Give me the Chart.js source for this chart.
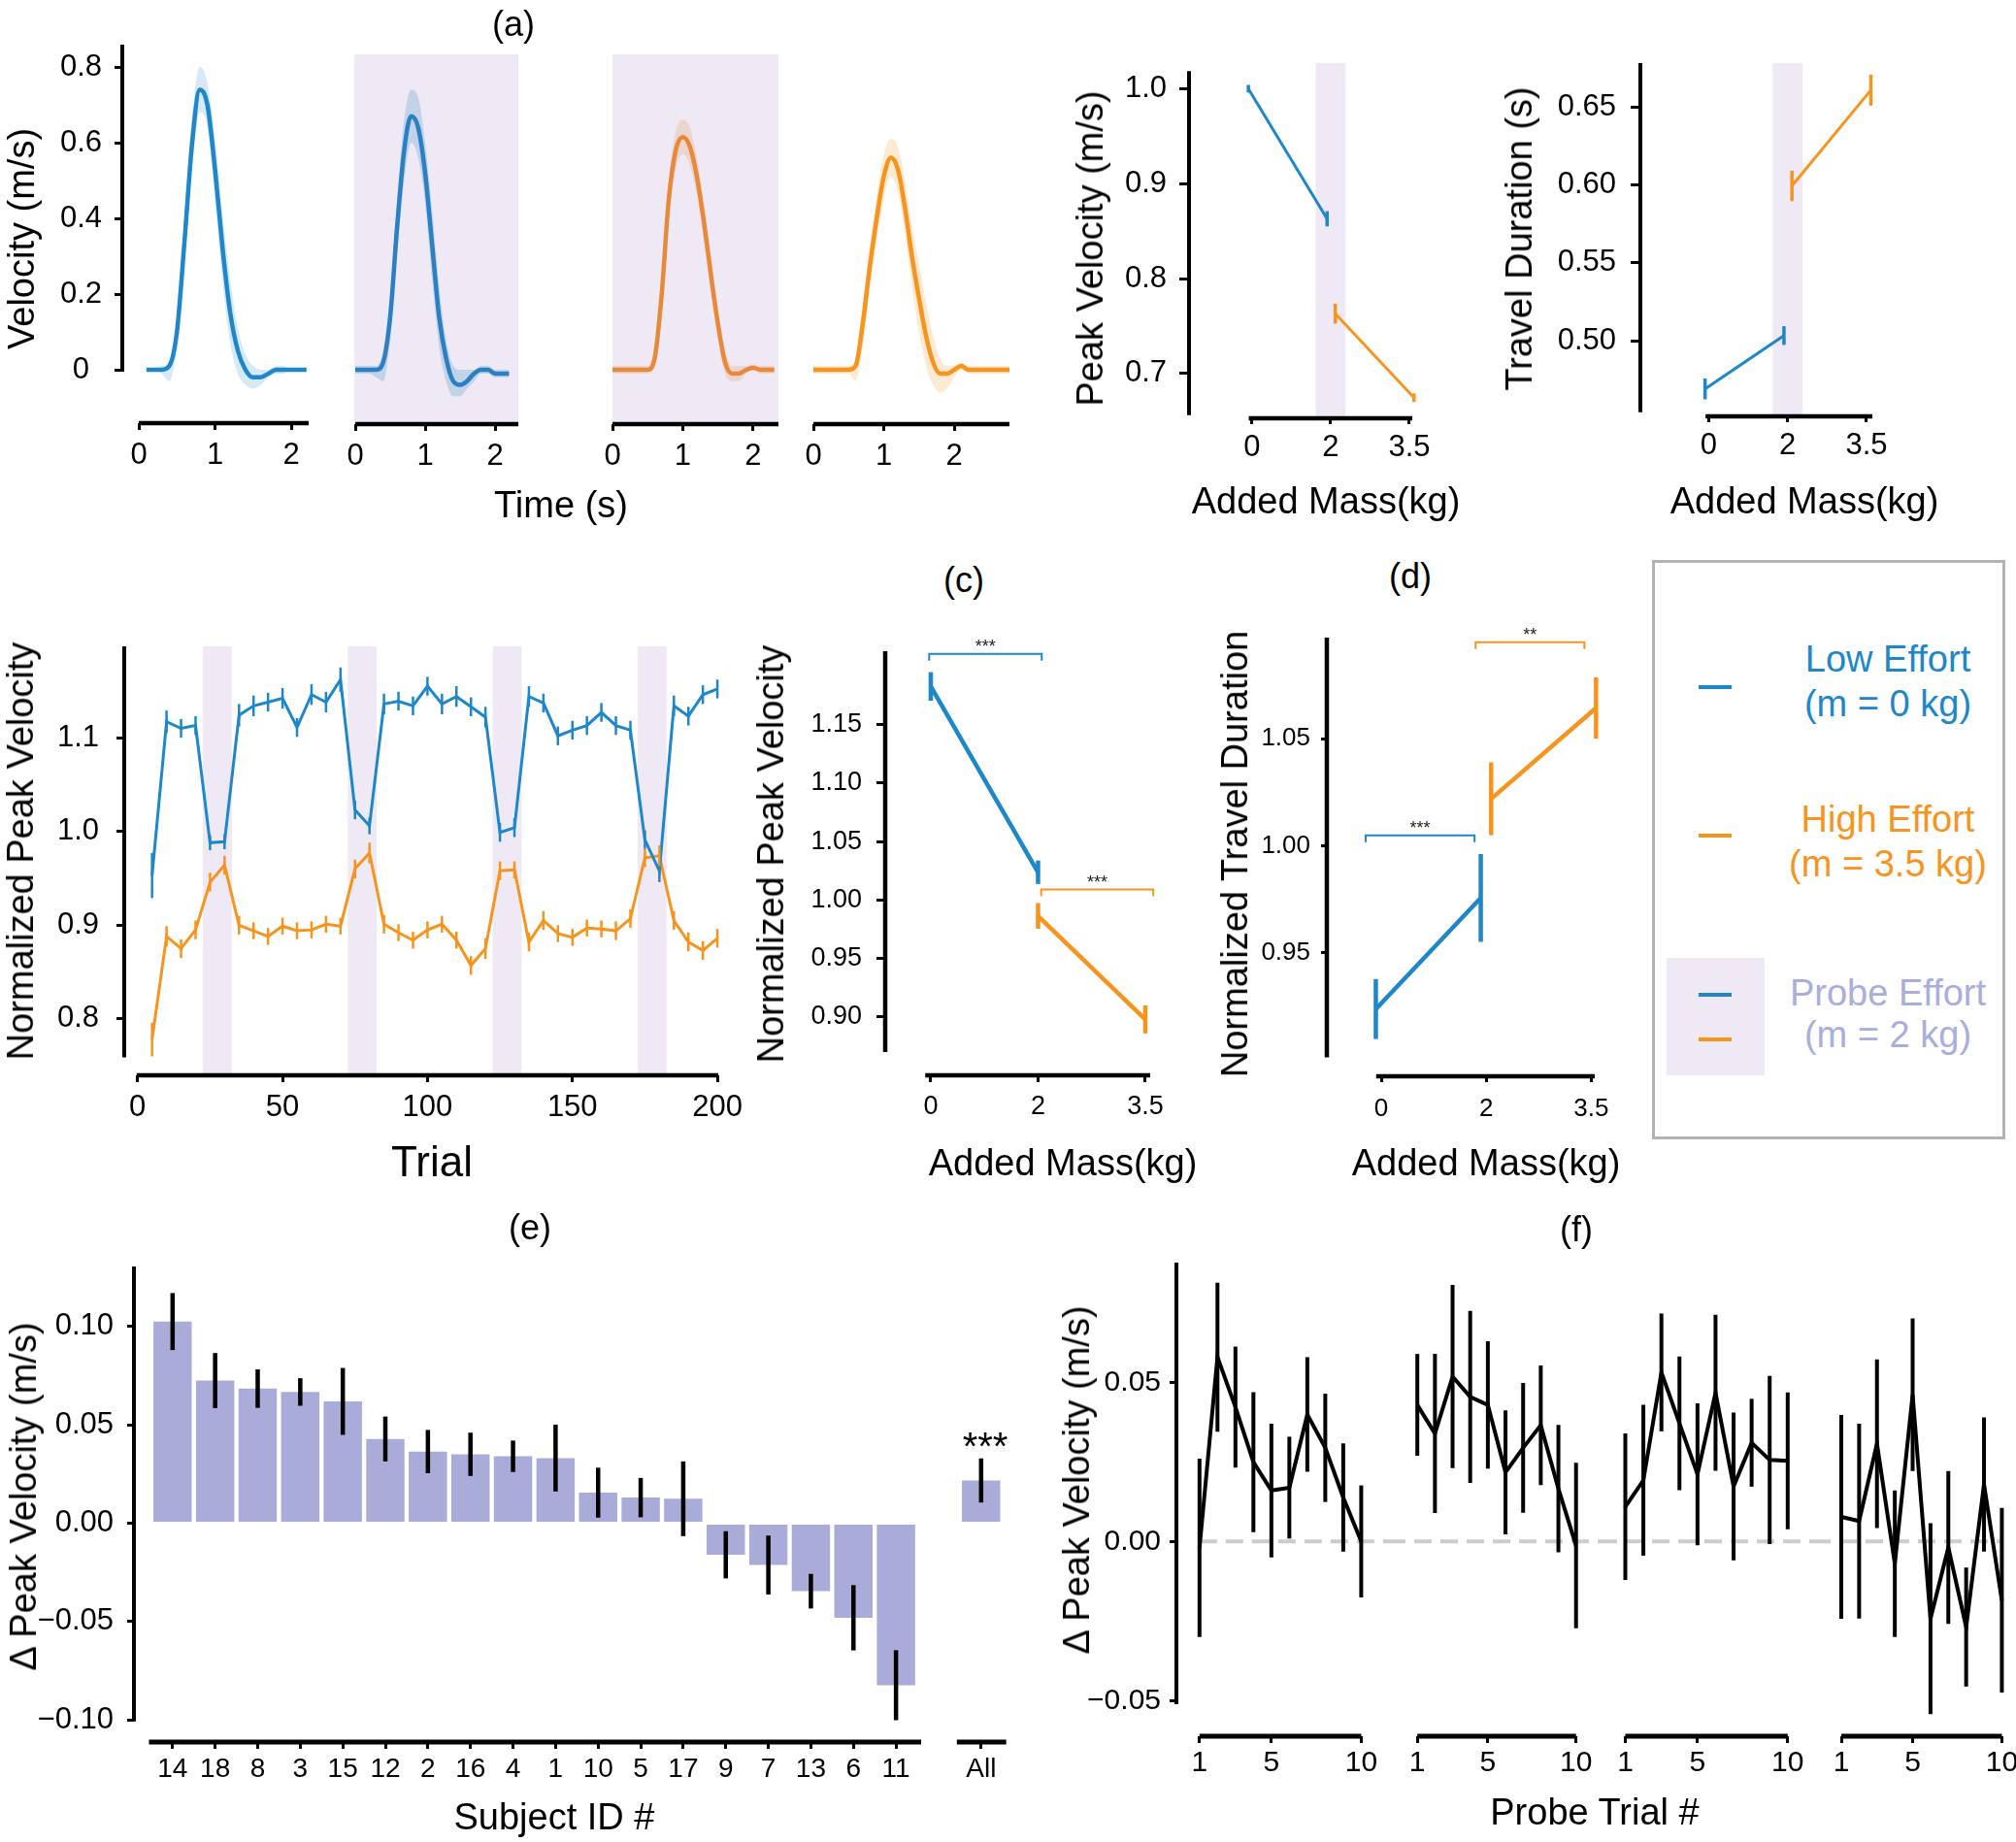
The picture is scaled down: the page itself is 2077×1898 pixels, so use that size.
<!DOCTYPE html>
<html><head><meta charset="utf-8">
<script src="https://cdn.jsdelivr.net/npm/chart.js"></script>
<style>
html,body{margin:0;padding:0;background:#fff;}
body{width:2077px;height:1898px;position:relative;overflow:hidden;font-family:"Liberation Sans",Arial,Helvetica,sans-serif;}
canvas{position:absolute;}
.t{position:absolute;white-space:nowrap;line-height:1;color:#000;transform:translate(-50%,-50%);}
.t.v{transform:translate(-50%,-50%) rotate(-90deg);}
.box{position:absolute;}
</style></head><body>
<script>
// ================= DATA =================
// (a) mean velocity profiles (m/s) with shaded spread
const timeLow = [0.1,0.2,0.3,0.4,0.5,0.6,0.7,0.8,0.9,1.0,1.1,1.2,1.3,1.4,1.5,1.6,1.7,1.8,1.9,2.0,2.1,2.2];
const velLow   = [0.00,0.00,0.00,0.01,0.10,0.34,0.60,0.74,0.70,0.53,0.32,0.15,0.05,0.00,-0.02,-0.02,-0.01,0.00,0.00,0.00,0.00,0.00];
const velLowHi = [0.00,0.00,0.01,0.02,0.14,0.40,0.67,0.80,0.76,0.61,0.41,0.24,0.11,0.04,0.01,0.00,0.00,0.01,0.01,0.00,0.00,0.00];
const velLowLo = [0.00,0.00,-0.01,-0.03,0.06,0.28,0.53,0.68,0.64,0.45,0.23,0.07,-0.01,-0.04,-0.05,-0.04,-0.02,-0.01,-0.01,0.00,0.00,0.00];

const timeProbeLow = [0.0,0.1,0.2,0.3,0.4,0.5,0.6,0.7,0.8,0.9,1.0,1.1,1.2,1.3,1.4,1.5,1.6,1.7,1.8,1.9,2.0,2.1,2.2];
const velProbeLow   = [0.00,0.00,0.00,0.00,0.02,0.14,0.38,0.58,0.67,0.64,0.52,0.33,0.14,0.03,-0.03,-0.04,-0.03,-0.01,0.00,0.00,-0.01,-0.01,-0.01];
const velProbeLowHi = [0.01,0.01,0.01,0.01,0.05,0.20,0.45,0.66,0.74,0.72,0.60,0.42,0.22,0.08,0.01,0.00,0.00,0.00,0.01,0.01,0.00,0.00,0.00];
const velProbeLowLo = [-0.01,-0.01,-0.01,-0.02,-0.03,0.08,0.31,0.50,0.60,0.56,0.44,0.24,0.06,-0.03,-0.07,-0.07,-0.05,-0.03,-0.01,-0.01,-0.02,-0.02,-0.02];

const timeProbeHigh = [0.0,0.1,0.2,0.3,0.4,0.5,0.6,0.7,0.8,0.9,1.0,1.1,1.2,1.3,1.4,1.5,1.6,1.7,1.8,1.9,2.0,2.1,2.2,2.3];
const velProbeHigh   = [0.00,0.00,0.00,0.00,0.00,0.00,0.03,0.20,0.45,0.58,0.615,0.59,0.51,0.39,0.25,0.12,0.02,-0.01,-0.01,0.00,0.005,0.00,0.00,0.00];
const velProbeHighHi = [0.01,0.01,0.01,0.01,0.01,0.01,0.06,0.25,0.50,0.63,0.66,0.64,0.56,0.44,0.30,0.16,0.05,0.01,0.01,0.01,0.015,0.01,0.01,0.01];
const velProbeHighLo = [-0.01,-0.01,-0.01,-0.01,-0.01,-0.01,0.01,0.15,0.40,0.53,0.57,0.54,0.46,0.34,0.20,0.08,-0.01,-0.03,-0.03,-0.01,0.00,-0.01,-0.01,-0.01];

const timeHigh = [0.0,0.1,0.2,0.3,0.4,0.5,0.6,0.7,0.8,0.9,1.0,1.1,1.2,1.3,1.4,1.5,1.6,1.7,1.8,1.9,2.0,2.1,2.2,2.3,2.4,2.5,2.6,2.7,2.8];
const velHigh   = [0.00,0.00,0.00,0.00,0.00,0.00,0.01,0.12,0.27,0.40,0.51,0.56,0.53,0.43,0.30,0.19,0.09,0.02,-0.01,-0.01,0.00,0.01,0.00,0.00,0.00,0.00,0.00,0.00,0.00];
const velHighHi = [0.01,0.01,0.01,0.01,0.01,0.01,0.03,0.17,0.33,0.46,0.57,0.61,0.59,0.50,0.38,0.28,0.18,0.09,0.03,0.01,0.01,0.02,0.01,0.01,0.01,0.01,0.01,0.01,0.01];
const velHighLo = [-0.01,-0.01,-0.01,-0.01,-0.01,-0.01,-0.03,0.06,0.21,0.34,0.45,0.51,0.47,0.36,0.22,0.10,0.01,-0.04,-0.06,-0.05,-0.02,0.00,-0.01,-0.01,-0.01,-0.01,-0.01,-0.01,-0.01];

// added-mass categories
const massCats = ['0','2','3.5'];
// (a) peak velocity & travel duration
const lowCats = ['0','2'], highCats = ['2','3.5'];
const peakVelLow = [1.000,0.863],  peakVelLowErr = [0.004,0.008];
const peakVelHigh = [0.763,0.6745], peakVelHighErr = [0.0105,0.0045];
const durLow = [0.469,0.5033],  durLowErr = [0.0067,0.006];
const durHigh = [0.5995,0.661], durHighErr = [0.0098,0.010];

// (b) normalized peak velocity per trial bin
const trialNums = [5,10,15,20,25,30,35,40,45,50,55,60,65,70,75,80,85,90,95,100,105,110,115,120,125,130,135,140,145,150,155,160,165,170,175,180,185,190,195,200];
const npvLow = [0.953,1.117,1.110,1.113,0.988,0.989,1.124,1.134,1.138,1.142,1.111,1.146,1.138,1.162,1.023,1.006,1.136,1.139,1.134,1.155,1.136,1.144,1.133,1.122,0.999,1.004,1.144,1.137,1.102,1.108,1.113,1.127,1.113,1.108,0.991,0.958,1.134,1.123,1.146,1.152];
const npvLowErr = [0.024,0.012,0.010,0.010,0.008,0.008,0.012,0.011,0.010,0.011,0.010,0.011,0.011,0.013,0.010,0.009,0.011,0.010,0.010,0.010,0.011,0.011,0.010,0.011,0.010,0.010,0.011,0.010,0.010,0.010,0.010,0.010,0.010,0.010,0.010,0.012,0.011,0.010,0.010,0.010];
const npvHigh = [0.778,0.888,0.875,0.895,0.946,0.964,0.900,0.894,0.888,0.899,0.894,0.895,0.901,0.899,0.960,0.977,0.901,0.892,0.884,0.895,0.901,0.884,0.857,0.875,0.958,0.959,0.882,0.905,0.891,0.887,0.897,0.896,0.894,0.907,0.972,0.974,0.905,0.882,0.873,0.886];
const npvHighErr = [0.018,0.011,0.010,0.010,0.010,0.010,0.010,0.009,0.009,0.009,0.009,0.009,0.009,0.009,0.010,0.011,0.010,0.009,0.009,0.009,0.009,0.009,0.010,0.011,0.010,0.009,0.010,0.010,0.009,0.009,0.009,0.009,0.010,0.010,0.010,0.011,0.010,0.010,0.010,0.010];
const probeBlocks = [[25,30],[75,80],[125,130],[175,180]];

// (c) normalized peak velocity by mass
const nPeakLow = [1.1825,1.0237], nPeakLowErr = [0.0122,0.010];
const nPeakHigh = [0.9864,0.898], nPeakHighErr = [0.011,0.012];
// (d) normalized travel duration by mass
const nDurLow = [0.9237,0.9756], nDurLowErr = [0.014,0.0205];
const nDurHigh = [1.0219,1.0643], nDurHighErr = [0.017,0.0143];

// (e) per-subject change in peak velocity
const subjects = ['14','18','8','3','15','12','2','16','4','1','10','5','17','9','7','13','6','11'];
const deltaPV = [0.1025,0.0725,0.0684,0.0667,0.0619,0.0428,0.0364,0.0350,0.0340,0.0331,0.0155,0.0130,0.0124,-0.0161,-0.0213,-0.0346,-0.0481,-0.0824];
const deltaPVErr = [0.0145,0.014,0.0098,0.007,0.017,0.0114,0.011,0.011,0.008,0.017,0.0127,0.010,0.019,0.012,0.015,0.0088,0.0166,0.0178];
const deltaAll = 0.0217, deltaAllErr = 0.0112;

// (f) change in peak velocity per probe trial, 4 probe blocks
const probeTrialNums = [1,2,3,4,5,6,7,8,9,10];
const block1 = [-0.002,0.0579,0.0422,0.0249,0.016,0.0169,0.0399,0.0294,0.0138,0.0];
const block1Err = [0.028,0.0234,0.019,0.022,0.021,0.016,0.018,0.017,0.017,0.0176];
const block2 = [0.0429,0.0339,0.0518,0.0454,0.0429,0.0217,0.0294,0.0365,0.0166,-0.0013];
const block2Err = [0.016,0.025,0.0288,0.027,0.020,0.0195,0.0204,0.0188,0.020,0.026];
const block3 = [0.0109,0.0192,0.0531,0.0371,0.0211,0.0467,0.0173,0.031,0.0256,0.0253];
const block3Err = [0.023,0.0237,0.0185,0.021,0.0223,0.0245,0.0232,0.0138,0.0264,0.0215];
const block4 = [0.0077,0.0064,0.0307,-0.007,0.0461,-0.0243,-0.0019,-0.0269,0.0179,-0.0185];
const block4Err = [0.032,0.0306,0.0265,0.023,0.024,0.030,0.024,0.0187,0.0211,0.029];

// ================= STYLE =================
const BLUE='#1d87c9', ORANGE='#f7941e', BLUE_P='#2a80c2', ORANGE_P='#e8893a', LAV='#eee9f4', BARC='#a9acd8', PROBE_TXT='#a9aedb';
const FONT='"Liberation Sans", Arial, Helvetica, sans-serif';
Chart.defaults.font.family = FONT;
Chart.defaults.color = '#000';
Chart.defaults.animation = false;

// ================= HELPERS =================
const pts = (xs, ys) => xs.map((x,i)=>({x:x, y:ys[i]}));
const catPts = (cats, ys) => cats.map((c,i)=>({x:massCats.indexOf(c), y:ys[i]}));

function linX(c){
  return {type:'linear', position:'bottom', min:c.min, max:c.max, offset:false, display:c.show!==false,
    afterFit:s=>{s.height=c.h;},
    afterBuildTicks:s=>{ if(c.ticks) s.ticks=c.ticks.map(v=>({value:v})); },
    ticks:{autoSkip:false, maxRotation:0, minRotation:0, padding:c.pad||6, font:{size:c.fs||30}, color:'#000',
      callback:(v,i)=> c.labels ? c.labels[i] : String(v)},
    grid:{display:true, offset:false, drawOnChartArea:false, drawTicks:true, tickLength:c.tl||7, tickWidth:3, tickColor:'#000', color:'#000', lineWidth:3},
    border:{display:false}};
}
function hidX(min,max){ return {type:'linear', axis:'x', display:false, min:min, max:max, offset:false, afterFit:s=>{s.height=0;}}; }
function linY(c){
  const shown = c.show!==false;
  return {type:'linear', position:'left', min:c.min, max:c.max, display:shown,
    afterFit:s=>{s.width = shown ? c.w : 0;},
    afterBuildTicks:s=>{ if(c.ticks) s.ticks=c.ticks.map(v=>({value:v})); },
    ticks:{padding:c.pad||8, font:{size:c.fs||30}, color:'#000', crossAlign:c.align||'near',
      callback:(v,i)=> c.labels ? c.labels[i] : String(v)},
    grid:{display:true, drawOnChartArea:false, drawTicks:true, tickLength:c.tl||7, tickWidth:3, tickColor:'#000', color:'#000', lineWidth:3},
    border:{display:false}};
}

function makeChart(spec){
  const a=spec.area, p=Object.assign({l:0,r:0,t:0,b:0}, spec.pad||{});
  const yw = spec.yw||0;
  const left=a.l-yw-p.l, top=a.t-p.t;
  const W=a.r-left+p.r, H=a.b+spec.xh+p.b-top;
  const cv=document.createElement('canvas');
  cv.width=W; cv.height=H;
  cv.style.left=left+'px'; cv.style.top=top+'px'; cv.style.width=W+'px'; cv.style.height=H+'px';
  document.body.appendChild(cv);
  return new Chart(cv, {
    type: spec.type||'line',
    data: {datasets: spec.datasets},
    options: {responsive:false, maintainAspectRatio:false, animation:false, devicePixelRatio:1, events:[],
      layout:{padding:{left:p.l, right:p.r, top:p.t, bottom:p.b}},
      plugins:{legend:{display:false}, tooltip:{enabled:false}},
      scales: spec.scales},
    plugins: spec.plugins||[]
  });
}

// error bars drawn through the chart scales
Chart.register({id:'errbars', afterDatasetsDraw(chart){
  const ctx=chart.ctx;
  chart.data.datasets.forEach((ds,i)=>{
    if(!ds.err) return;
    const meta=chart.getDatasetMeta(i), ys=chart.scales[meta.yAxisID];
    ctx.save(); ctx.strokeStyle=ds.errColor||ds.borderColor; ctx.lineWidth=ds.errWidth||3; ctx.lineCap='butt';
    ds.data.forEach((d,j)=>{
      const e=ds.err[j], el=meta.data[j]; if(e==null||!el) return;
      ctx.beginPath(); ctx.moveTo(el.x, ys.getPixelForValue(d.y-e)); ctx.lineTo(el.x, ys.getPixelForValue(d.y+e)); ctx.stroke();
    });
    ctx.restore();
  });
}});

function spines(o){ return {id:'spines', afterDraw(chart){
  const ctx=chart.ctx, a=chart.chartArea, xs=chart.scales.x, ys=chart.scales.y;
  ctx.save(); ctx.strokeStyle='#000'; ctx.lineCap='butt';
  ctx.lineWidth=o.wx||4;
  (o.x||[]).forEach(r=>{ctx.beginPath(); ctx.moveTo(xs.getPixelForValue(r[0]),a.bottom); ctx.lineTo(xs.getPixelForValue(r[1]),a.bottom); ctx.stroke();});
  ctx.lineWidth=o.wy||4;
  (o.y||[]).forEach(r=>{ctx.beginPath(); ctx.moveTo(a.left,ys.getPixelForValue(r[0])); ctx.lineTo(a.left,ys.getPixelForValue(r[1])); ctx.stroke();});
  ctx.restore();
}}; }
function shade(ranges,color){ return {id:'shade', beforeDatasetsDraw(chart){
  const ctx=chart.ctx, a=chart.chartArea, xs=chart.scales.x;
  ctx.save(); ctx.fillStyle=color;
  (ranges||[[null,null]]).forEach(r=>{
    const x0=r[0]==null?a.left:xs.getPixelForValue(r[0]), x1=r[1]==null?a.right:xs.getPixelForValue(r[1]);
    ctx.fillRect(x0,a.top,x1-x0,a.bottom-a.top);
  });
  ctx.restore();
}}; }
function brackets(list){ return {id:'brackets', afterDatasetsDraw(chart){
  const ctx=chart.ctx, xs=chart.scales.x, ys=chart.scales.y;
  list.forEach(b=>{
    const x0=xs.getPixelForValue(b.x0), x1=xs.getPixelForValue(b.x1), py=ys.getPixelForValue(b.y);
    ctx.save(); ctx.strokeStyle=b.color; ctx.lineWidth=2;
    ctx.beginPath(); ctx.moveTo(x0,py+7); ctx.lineTo(x0,py); ctx.lineTo(x1,py); ctx.lineTo(x1,py+7); ctx.stroke();
    ctx.fillStyle='#222'; ctx.font='18px '+FONT; ctx.textAlign='center'; ctx.textBaseline='alphabetic';
    ctx.fillText(b.text,(x0+x1)/2,py-2);
    ctx.restore();
  });
}}; }
function zeroLine(from,to){ return {id:'zero', beforeDatasetsDraw(chart){
  const ctx=chart.ctx, a=chart.chartArea, xs=chart.scales.x, ys=chart.scales.y;
  const x0=from==null?a.left:xs.getPixelForValue(from), x1=to==null?a.right:xs.getPixelForValue(to), py=ys.getPixelForValue(0);
  ctx.save(); ctx.strokeStyle='#cccccc'; ctx.lineWidth=4; ctx.setLineDash([18,9]);
  ctx.beginPath(); ctx.moveTo(x0,py); ctx.lineTo(x1,py); ctx.stroke(); ctx.restore();
}}; }

function bandSet(t,m,hi,lo,col,bandCol){
  return [
    {data:pts(t,m), borderColor:col, borderWidth:4.5, pointRadius:0, cubicInterpolationMode:'monotone', fill:false},
    {data:pts(t,hi), borderColor:'rgba(0,0,0,0)', borderWidth:0, pointRadius:0, cubicInterpolationMode:'monotone', fill:'+1', backgroundColor:bandCol},
    {data:pts(t,lo), borderColor:'rgba(0,0,0,0)', borderWidth:0, pointRadius:0, cubicInterpolationMode:'monotone', fill:false}
  ];
}
function lineDs(data,color,err,w,ew,axis){
  const d={data:data, borderColor:color, borderWidth:w, pointRadius:0, fill:false, tension:0, err:err, errColor:color, errWidth:ew};
  if(axis) d.xAxisID=axis;
  return d;
}
function txt(s,cx,cy,size,opt){
  opt=opt||{};
  const d=document.createElement('div'); d.className='t'+(opt.rot?' v':''); d.textContent=s;
  d.style.left=cx+'px'; d.style.top=cy+'px'; d.style.fontSize=size+'px';
  if(opt.color) d.style.color=opt.color;
  document.body.appendChild(d);
}
function rect(l,t,w,h,color){
  const d=document.createElement('div'); d.className='box';
  Object.assign(d.style,{left:l+'px',top:t+'px',width:w+'px',height:h+'px',background:color});
  document.body.appendChild(d); return d;
}

// ================= PANEL (a): velocity profiles =================
const vTicks=[0,0.2,0.4,0.6,0.8], vLabels=['0','0.2','0.4','0.6','0.8'];
makeChart({area:{l:126,t:46,r:318,b:436}, yw:110, xh:70, pad:{l:0,r:30,t:40},
  datasets: bandSet(timeLow,velLow,velLowHi,velLowLo,BLUE,'rgba(29,135,201,0.18)'),
  scales:{x:linX({min:-0.2166,max:2.229,ticks:[0,1,2],fs:31,tl:7,pad:8,h:70}),
          y:linY({min:-0.141,max:0.859,ticks:vTicks,labels:vLabels,fs:31,tl:8,pad:13,w:110,align:'center'})},
  plugins:[spines({x:[[0,2.229]], y:[[-0.005,0.859]], wx:4.5, wy:4})]});
makeChart({area:{l:365,t:56,r:534,b:437}, xh:70, pad:{l:25,r:25,t:10},
  datasets: bandSet(timeProbeLow,velProbeLow,velProbeLowHi,velProbeLowLo,BLUE_P,'rgba(43,128,194,0.22)'),
  scales:{x:linX({min:-0.014,max:2.333,ticks:[0,1,2],fs:31,tl:7,pad:8,h:70}),
          y:linY({min:-0.1436,max:0.8333,show:false})},
  plugins:[shade(null,LAV), spines({x:[[0,2.333]], wx:4.5})]});
makeChart({area:{l:631,t:56,r:802,b:437}, xh:70, pad:{l:25,r:25,t:10},
  datasets: bandSet(timeProbeHigh,velProbeHigh,velProbeHighHi,velProbeHighLo,ORANGE_P,'rgba(232,137,58,0.2)'),
  scales:{x:linX({min:0,max:2.359,ticks:[0,1,2],fs:31,tl:7,pad:8,h:70}),
          y:linY({min:-0.1436,max:0.8333,show:false})},
  plugins:[shade(null,LAV), spines({x:[[0,2.359]], wx:4.5})]});
makeChart({area:{l:838,t:56,r:1040,b:437}, xh:70, pad:{l:25,r:25,t:10},
  datasets: bandSet(timeHigh,velHigh,velHighHi,velHighLo,ORANGE,'rgba(247,148,30,0.2)'),
  scales:{x:linX({min:0,max:2.786,ticks:[0,1,2],fs:31,tl:7,pad:8,h:70}),
          y:linY({min:-0.1436,max:0.8333,show:false})},
  plugins:[spines({x:[[0,2.786]], wx:4.5})]});

// ================= PANEL (a): peak velocity / travel duration =================
const probeIdx = massCats.indexOf('2');
makeChart({area:{l:1225,t:65,r:1455,b:431}, yw:100, xh:70, pad:{l:0,r:30,t:45},
  datasets:[lineDs(catPts(lowCats,peakVelLow),BLUE,peakVelLowErr,3,3.5,'xb'),
            lineDs(catPts(highCats,peakVelHigh),ORANGE,peakVelHighErr,3,3.5,'xo')],
  scales:{x:linX({min:-0.799,max:2.037,ticks:[0,1,2],labels:massCats,fs:31,tl:6,pad:6,h:70}),
          xb:hidX(-0.799+0.045,2.037+0.045), xo:hidX(-0.799-0.059,2.037-0.059),
          y:linY({min:0.6528,max:1.027,ticks:[0.7,0.8,0.9,1.0],labels:['0.7','0.8','0.9','1.0'],fs:31,tl:10,pad:13,w:100})},
  plugins:[shade([[probeIdx-0.19,probeIdx+0.19]],LAV), spines({x:[[-0.04,2.037]], y:[[0.656,1.0186]], wx:4.5, wy:4})]});
makeChart({area:{l:1690,t:65,r:1929,b:429}, yw:110, xh:70, pad:{l:0,r:30,t:45},
  datasets:[lineDs(catPts(lowCats,durLow),BLUE,durLowErr,3,3.5,'xb'),
            lineDs(catPts(highCats,durHigh),ORANGE,durHighErr,3,3.5,'xo')],
  scales:{x:linX({min:-0.866,max:2.074,ticks:[0,1,2],labels:massCats,fs:31,tl:6,pad:6,h:70}),
          xb:hidX(-0.866+0.046,2.074+0.046), xo:hidX(-0.866-0.055,2.074-0.055),
          y:linY({min:0.4514,max:0.6784,ticks:[0.50,0.55,0.60,0.65],labels:['0.50','0.55','0.60','0.65'],fs:31,tl:10,pad:15,w:110})},
  plugins:[shade([[probeIdx-0.19,probeIdx+0.19]],LAV), spines({x:[[-0.04,2.074]], y:[[0.454,0.6784]], wx:4.5, wy:4})]});

// ================= PANEL (b): trials =================
const halfStep=(trialNums[1]-trialNums[0])/2;
makeChart({area:{l:128,t:666,r:743,b:1108}, yw:100, xh:70, pad:{l:0,r:30,t:45},
  datasets:[Object.assign(lineDs(pts(trialNums,npvLow),BLUE,npvLowErr,3,2.5),{order:0}),
            Object.assign(lineDs(pts(trialNums,npvHigh),ORANGE,npvHighErr,3,2.5),{order:1})],
  scales:{x:linX({min:-4.6,max:200.4,ticks:[0,50,100,150,200],fs:31,tl:7,pad:8,h:70}),
          y:linY({min:0.7398,max:1.1975,ticks:[0.8,0.9,1.0,1.1],labels:['0.8','0.9','1.0','1.1'],fs:31,tl:8,pad:18,w:100})},
  plugins:[shade(probeBlocks.map(b=>[b[0]-halfStep,b[b.length-1]+halfStep]),LAV), spines({x:[[-0.3,200.3]], y:[[0.759,1.1975]], wx:4.5, wy:4})]});

// ================= PANEL (c) =================
makeChart({area:{l:912,t:671,r:1192,b:1108}, yw:100, xh:70, pad:{l:0,r:30,t:40},
  datasets:[lineDs(catPts(lowCats,nPeakLow),BLUE,nPeakLowErr,4.5,4.5),
            lineDs(catPts(highCats,nPeakHigh),ORANGE,nPeakHighErr,4.5,4.5)],
  scales:{x:linX({min:-0.425,max:2.109,ticks:[0,1,2],labels:massCats,fs:27,tl:7,pad:9,h:70}),
          y:linY({min:0.8502,max:1.2126,ticks:[0.90,0.95,1.00,1.05,1.10,1.15],labels:['0.90','0.95','1.00','1.05','1.10','1.15'],fs:27,tl:9,pad:15,w:100})},
  plugins:[spines({x:[[-0.052,2.045]], y:[[0.870,1.2126]], wx:4.5, wy:4.5}),
           brackets([{x0:-0.015,x1:1.034,y:1.2104,text:'***',color:BLUE},{x0:1.029,x1:2.075,y:1.009,text:'***',color:ORANGE}])]});

// ================= PANEL (d) =================
makeChart({area:{l:1367,t:657,r:1645,b:1109}, yw:100, xh:70, pad:{l:0,r:30,t:40},
  datasets:[lineDs(catPts(lowCats,nDurLow),BLUE,nDurLowErr,4.5,4.5,'xb'),
            lineDs(catPts(highCats,nDurHigh),ORANGE,nDurHighErr,4.5,4.5,'xo')],
  scales:{x:linX({min:-0.519,max:2.053,ticks:[0,1,2],labels:massCats,fs:26,tl:6,pad:12,h:70}),
          xb:hidX(-0.519+0.052,2.053+0.052), xo:hidX(-0.519-0.047,2.053-0.047),
          y:linY({min:0.8923,max:1.0972,ticks:[0.95,1.00,1.05],labels:['0.95','1.00','1.05'],fs:26,tl:6,pad:11,w:100})},
  plugins:[spines({x:[[-0.049,2.034]], y:[[0.9011,1.0972]], wx:4.5, wy:4.5}),
           brackets([{x0:0.899,x1:1.936,y:1.095,text:'**',color:ORANGE},{x0:-0.149,x1:0.889,y:1.0048,text:'***',color:BLUE}])]});

// ================= PANEL (e) =================
const eLabels = subjects.concat(['','All']);
const eData = subjects.map((s,i)=>({x:eLabels.indexOf(s), y:deltaPV[i]})).concat([{x:eLabels.indexOf('All'), y:deltaAll}]);
const eErr = deltaPVErr.concat([deltaAllErr]);
const eTicks = eLabels.map((l,i)=>l===''?null:i).filter(v=>v!==null);
makeChart({type:'bar', area:{l:138,t:1305,r:1045,b:1795}, yw:120, xh:60, pad:{l:0,r:10,t:40},
  datasets:[{data:eData, backgroundColor:BARC, borderWidth:0, barPercentage:0.9, categoryPercentage:1.0, err:eErr, errColor:'#000', errWidth:4.5}],
  scales:{x:linX({min:-0.908,max:19.78,ticks:eTicks,labels:eTicks.map(i=>eLabels[i]),fs:28,tl:7,pad:4,h:60}),
          y:linY({min:-0.1113,max:0.1305,ticks:[-0.10,-0.05,0,0.05,0.10],labels:['\u22120.10','\u22120.05','0.00','0.05','0.10'],fs:31,tl:7,pad:14,w:120})},
  plugins:[spines({x:[[-0.555,17.59],[18.43,19.59]], y:[[-0.1008,0.1305]], wx:5, wy:4})]});

// ================= PANEL (f) =================
const fY = {min:-0.0612,max:0.0876,ticks:[-0.05,0,0.05],labels:['\u22120.05','0.00','0.05'],fs:30,tl:7,pad:9,w:110};
const blocks=[[block1,block1Err],[block2,block2Err],[block3,block3Err],[block4,block4Err]];
const fAreas=[{l:1212,t:1301,r:1430,b:1789},{l:1430,t:1301,r:1648,b:1789},{l:1648,t:1301,r:1868,b:1789},{l:1868,t:1301,r:2071,b:1789}];
const fX=[[-0.2858,11.491],[-0.662,11.336],[-0.4255,11.409],[-0.578,10.467]];
blocks.forEach((b,i)=>{
  const first=i===0, last=i===blocks.length-1;
  makeChart({area:fAreas[i], yw:first?110:0, xh:60, pad:{l:0,r:last?14:0,t:35},
    datasets:[lineDs(pts(probeTrialNums,b[0]),'#000',b[1],4,4)],
    scales:{x:linX({min:fX[i][0],max:fX[i][1],ticks:[1,5,10],fs:30,tl:7,pad:3,h:60}),
            y:linY(Object.assign({},fY,{show:first}))},
    plugins:[zeroLine(first?probeTrialNums[0]:null, last?probeTrialNums[probeTrialNums.length-1]:null),
             spines({x:[[probeTrialNums[0],probeTrialNums[probeTrialNums.length-1]]], y:first?[[-0.0511,0.0876]]:[], wx:5, wy:4})]});
});

// ================= TEXT =================
txt('(a)',529,25,36);
txt('Velocity (m/s)',22,246,38,{rot:1});
txt('Time (s)',578,520,38);
txt('Peak Velocity (m/s)',1123,256,38,{rot:1});
txt('Travel Duration (s)',1565,246,38,{rot:1});
txt('Added Mass(kg)',1366,516,38);
txt('Added Mass(kg)',1859,516,38);
txt('Normalized Peak Velocity',21,877,38,{rot:1});
txt('Trial',445,1197,44);
txt('(c)',993,598,36);
txt('Normalized Peak Velocity',794,880,38,{rot:1});
txt('Added Mass(kg)',1095,1198,38);
txt('(d)',1453,594,36);
txt('Normalized Travel Duration',1272,880,38,{rot:1});
txt('Added Mass(kg)',1531,1198,38);
txt('(e)',546,1265,36);
txt('\u0394 Peak Velocity (m/s)',24,1542,38,{rot:1});
txt('Subject ID #',571,1872,38);
txt('***',1015,1490,40);
txt('(f)',1624,1267,36);
txt('\u0394 Peak Velocity (m/s)',1109,1525,38,{rot:1});
txt('Probe Trial #',1643,1867,38);

// ================= LEGEND =================
const lg=rect(1702,577,364,597,'transparent'); lg.style.border='3.5px solid #b3b3b3'; lg.style.boxSizing='border-box';
rect(1717,987,101,121,LAV);
rect(1750,706,34,4,BLUE);
rect(1750,859,34,4,ORANGE);
rect(1750,1023,34,4,BLUE);
rect(1750,1069,34,4,ORANGE);
txt('Low Effort',1945,679,38,{color:BLUE});
txt('(m = 0 kg)',1945,725,38,{color:BLUE});
txt('High Effort',1945,844,38,{color:ORANGE});
txt('(m = 3.5 kg)',1945,890,38,{color:ORANGE});
txt('Probe Effort',1945,1023,38,{color:PROBE_TXT});
txt('(m = 2 kg)',1945,1066,38,{color:PROBE_TXT});
</script>
</body></html>
